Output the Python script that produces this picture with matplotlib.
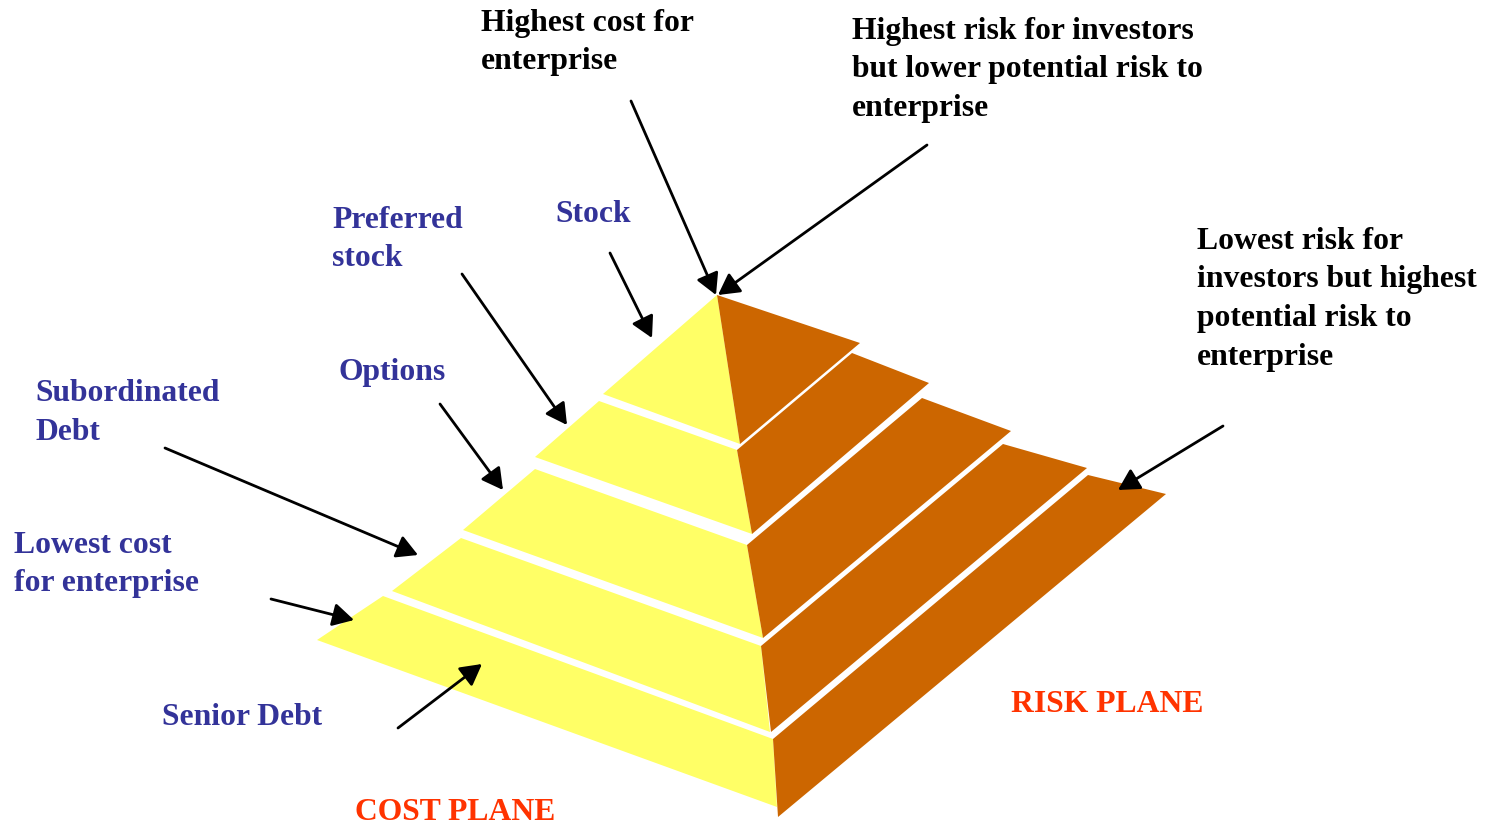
import matplotlib.pyplot as plt
from matplotlib.patches import Polygon

# layer names, top of the pyramid first
layers = ['Stock', 'Preferred stock', 'Options', 'Subordinated Debt', 'Senior Debt']

# pyramid geometry in pixel space (image y grows downwards)
# each face is cut into 5 slabs: (top, bottom) points on each edge
left_top = [(717, 295), (599, 401), (535, 469), (461, 538), (383, 596)]
left_bot = [(603, 394), (535, 457), (463, 530), (392, 591), (317, 640)]
center_top = [(717, 295), (737, 450), (747, 545), (761, 646), (773, 739)]
center_bot = [(740, 444), (752, 534), (763, 638), (770, 732), (777, 807)]
risk_center_bot = [(740, 444), (752, 534), (763, 638), (771, 732), (778, 817)]
right_top = [(717, 295), (852, 353), (922, 398), (1003, 444), (1088, 475)]
right_bot = [(860, 343), (929, 383), (1011, 431), (1087, 468), (1166, 494)]

COST_COLOR = '#FFFF66'
RISK_COLOR = '#CC6600'
BLUE = '#333399'
RED = '#FF3300'

# text labels: (text, x, first baseline, color)
labels = [
    ('Highest cost for\nenterprise', 481, 31, 'black'),
    ('Highest risk for investors\nbut lower potential risk to\nenterprise', 852, 39, 'black'),
    ('Lowest risk for\ninvestors but highest\npotential risk to\nenterprise', 1197, 249, 'black'),
    ('Preferred\nstock', 332, 228, BLUE),
    ('Stock', 555, 222, BLUE),
    ('Options', 338, 380, BLUE),
    ('Subordinated\nDebt', 35, 401, BLUE),
    ('Lowest cost\nfor enterprise', 14, 553, BLUE),
    ('Senior Debt', 162, 725, BLUE),
    ('COST PLANE', 355, 820, RED),
    ('RISK PLANE', 1011, 712, RED),
]
line_step = 38.5

# arrows: (start, tip)
arrows = [
    ((631, 101), (716, 295)),
    ((927, 145), (718, 295)),
    ((610, 253), (652, 338)),
    ((462, 274), (567, 425)),
    ((440, 404), (503, 490)),
    ((165, 448), (418, 555)),
    ((271, 599), (354, 620)),
    ((398, 728), (482, 664)),
    ((1223, 426), (1118, 490)),
]

fig = plt.figure(figsize=(14.93, 8.26), dpi=100)
ax = fig.add_axes([0, 0, 1, 1])
ax.set_xlim(0, 1493)
ax.set_ylim(826, 0)
ax.axis('off')

for i in range(len(layers)):
    cost = [left_top[i], center_top[i], center_bot[i], left_bot[i]]
    risk = [center_top[i], right_top[i], right_bot[i], risk_center_bot[i]]
    ax.add_patch(Polygon(cost, closed=True, facecolor=COST_COLOR, edgecolor='none'))
    ax.add_patch(Polygon(risk, closed=True, facecolor=RISK_COLOR, edgecolor='none'))

for start, tip in arrows:
    ax.annotate('', xy=tip, xytext=start,
                arrowprops=dict(arrowstyle='-|>,head_length=0.4,head_width=0.22',
                                color='black', lw=2, mutation_scale=32,
                                shrinkA=0, shrinkB=0))

for text, x, y, color in labels:
    for k, line in enumerate(text.split('\n')):
        ax.text(x, y + k * line_step, line, color=color, fontsize=22.8,
                fontweight='bold', family='Liberation Serif', va='baseline', ha='left')

fig.savefig('out.png', dpi=100)
